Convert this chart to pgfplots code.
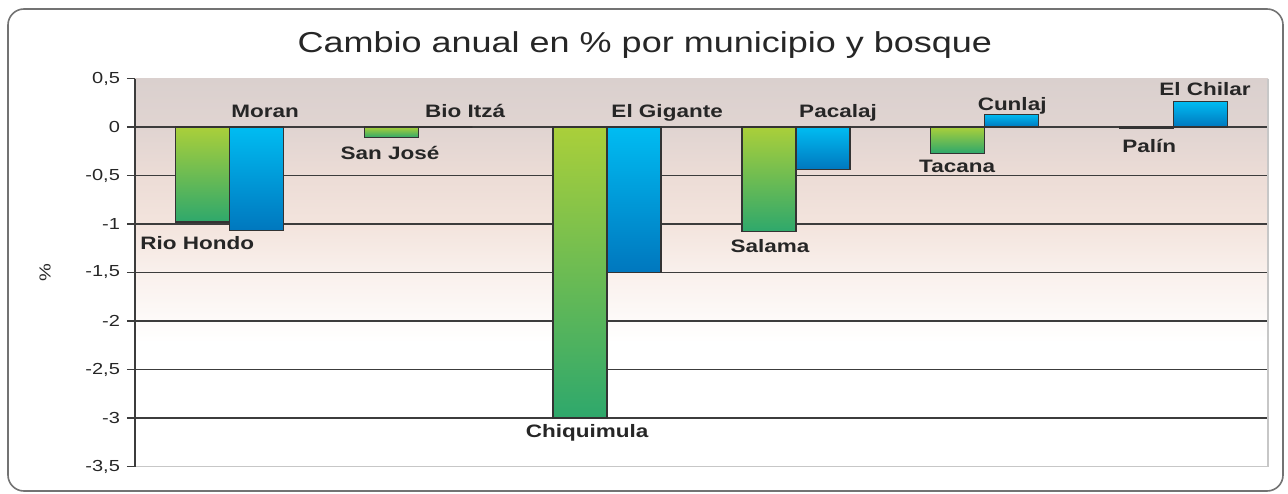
\documentclass[border=0pt]{standalone}
\usepackage{fontspec}
\setmainfont[FakeStretch=1.25]{Liberation Sans}
\usepackage{pgfplots}
\pgfplotsset{compat=1.18}
\usepackage{pgfplotstable}

\definecolor{gtop}{HTML}{AACF3A}
\definecolor{gbot}{HTML}{2EA86C}
\definecolor{btop}{HTML}{00BCF2}
\definecolor{bbot}{HTML}{0077BE}
\definecolor{bg0}{HTML}{DAD0CE}
\definecolor{bg1}{HTML}{E0D4D1}
\definecolor{bg1b}{HTML}{ECDCD6}
\definecolor{bg2}{HTML}{F3E4DD}
\definecolor{bg3}{HTML}{F9F0EC}
\definecolor{gridc}{HTML}{3C3C3C}
\definecolor{txt}{HTML}{262626}

\pgfdeclareverticalshading{bgshade}{100bp}{color(0bp)=(white); color(41bp)=(white); color(50bp)=(bg3); color(56.25bp)=(bg2); color(62.5bp)=(bg1b); color(68.75bp)=(bg1); color(75bp)=(bg0); color(100bp)=(bg0)}

\pgfplotstableread[col sep=comma]{
x,y
0,-0.98
1,-0.11
2,-3.0
3,-1.08
4,-0.27
5,-0.015
}\municipio

\pgfplotstableread[col sep=comma]{
x,y
0,-1.07
1,0
2,-1.5
3,-0.44
4,0.132
5,0.263
}\bosque

\pgfplotstableread[col sep=comma]{
x,y,label
-0.17,-1.258,Rio Hondo
0.851,-0.33,San José
1.894,-3.196,Chiquimula
2.863,-1.29,Salama
3.854,-0.464,Tacana
4.871,-0.258,Palín
}\munlabels

\pgfplotstableread[col sep=comma]{
x,y,label
0.189,0.103,Moran
1.248,0.103,Bio Itzá
2.318,0.103,El Gigante
3.223,0.103,Pacalaj
4.145,0.175,Cunlaj
5.167,0.32,El Chilar
}\bosqlabels

\pgfplotsset{
  greenbar/.style={ybar, bar width=0.286, bar shift=-0.143, draw=black!80, line width=0.6pt,
    top color=gtop, bottom color=gbot},
  bluebar/.style={ybar, bar width=0.286, bar shift=0.143, draw=black!80, line width=0.6pt,
    top color=btop, bottom color=bbot},
}

\begin{document}
\begin{tikzpicture}
\begin{axis}[
  name=ax,
  scale only axis,
  width=566.5pt, height=194pt,
  xmin=-0.5, xmax=5.5,
  ymin=-3.5, ymax=0.5,
  xtick=\empty,
  ytick={-3.5,-3,-2.5,-2,-1.5,-1,-0.5,0,0.5},
  ytick pos=left,
  tick align=outside,
  major tick length=4pt,
  tick style={draw=gridc, line width=0.6pt},
  yticklabel style={font=\fontsize{8}{9}\selectfont, text=txt},
  /pgf/number format/use comma,
  /pgf/number format/assume math mode=true,
  extra y ticks={-3,-2.5,-2,-1.5,-1,-0.5,0},
  extra y tick labels={},
  extra y tick style={grid=major, major tick length=0pt},
  major grid style={draw=gridc, line width=0.7pt},
  axis line style={draw=none},
  axis background/.style={shade, shading=bgshade},
  ylabel={\%},
  ylabel style={at={(axis description cs:-0.0794,0.5)}, anchor=center, font=\fontsize{8}{9}\selectfont, text=txt},
  clip=false,
]
\draw[draw=black!22, line width=0.6pt] (rel axis cs:0,0) -- (rel axis cs:1,0) -- (rel axis cs:1,1);
\draw[draw=gridc, line width=0.7pt] (rel axis cs:0,0) -- (rel axis cs:0,1);

\pgfplotsinvokeforeach{0,...,5}{
  \addplot[greenbar, restrict x to domain=#1:#1] table[x=x, y=y] {\municipio};
  \addplot[bluebar, restrict x to domain=#1:#1] table[x=x, y=y] {\bosque};
}

\addplot[only marks, mark=none, nodes near coords, point meta=explicit symbolic,
  nodes near coords style={anchor=base, inner sep=0pt, text=txt, font=\bfseries\fontsize{9}{10}\selectfont}]
  table[x=x, y=y, meta=label] {\munlabels};
\addplot[only marks, mark=none, nodes near coords, point meta=explicit symbolic,
  nodes near coords style={anchor=base, inner sep=0pt, text=txt, font=\bfseries\fontsize{9}{10}\selectfont}]
  table[x=x, y=y, meta=label] {\bosqlabels};

\node[anchor=base, font=\fontsize{14.4}{16}\selectfont, text=txt] at (axis description cs:0.45,1.066) {Cambio anual en \% por municipio y bosque};
\end{axis}
\draw[draw=black!55, line width=0.8pt, rounded corners=8pt]
  ([shift={(-63.5pt,-12.25pt)}]ax.south west) rectangle ([shift={(574pt,228.75pt)}]ax.south west);
\pgfresetboundingbox
\path ([shift={(-67.5pt,-13.25pt)}]ax.south west) rectangle ([shift={(576.5pt,233.25pt)}]ax.south west);
\end{tikzpicture}
\end{document}
